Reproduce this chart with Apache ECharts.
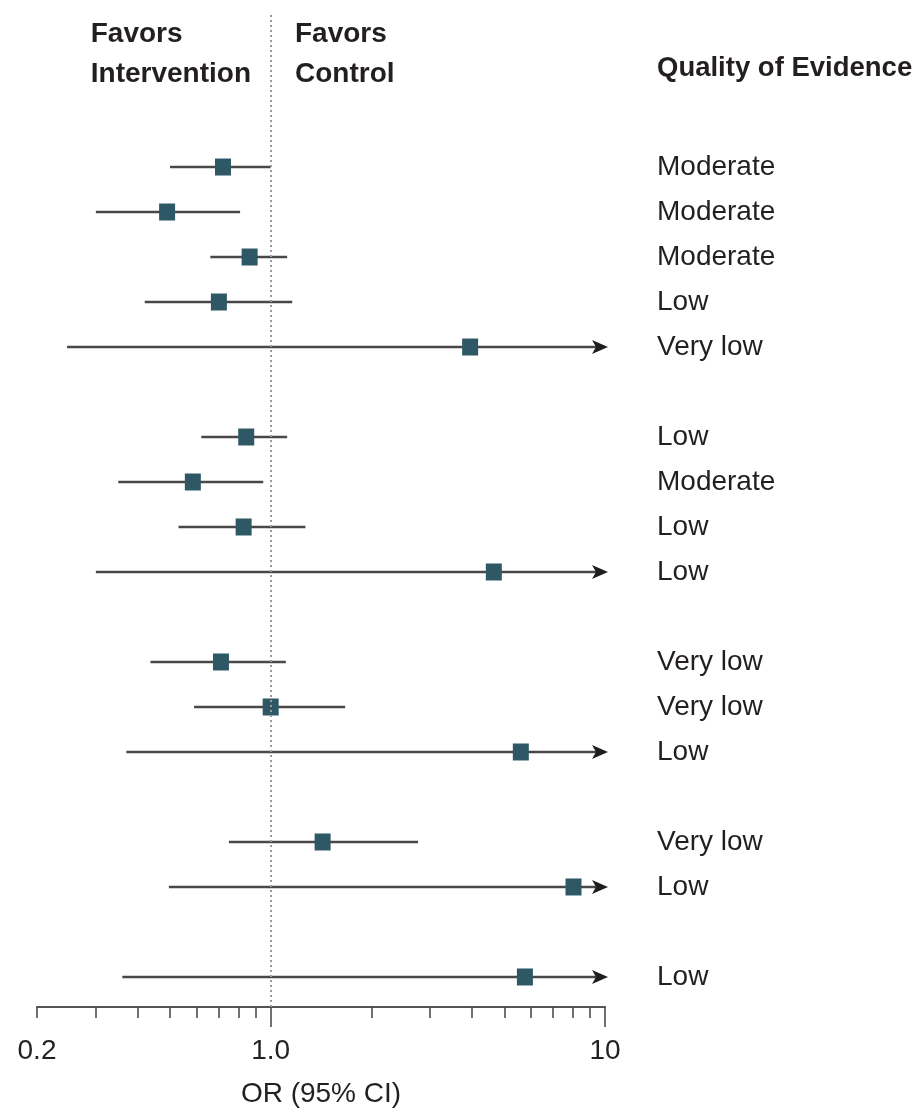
<!DOCTYPE html>
<html>
<head>
<meta charset="utf-8">
<script src="https://cdn.jsdelivr.net/npm/echarts@6/dist/echarts.min.js"></script>
<style>
  html, body { margin: 0; padding: 0; background: #ffffff; }
  #chart { width: 920px; height: 1113px; }
</style>
</head>
<body>
<div id="chart"></div>
<script>
// Rows are listed top to bottom; a blank row separates consecutive groups
const groupSizes = [5, 4, 3, 2, 1];
const oddsRatio = [0.72, 0.49, 0.865, 0.70, 3.95, 0.845, 0.585, 0.83, 4.65, 0.71, 1.0, 5.6, 1.43, 8.05, 5.76];
const ciLower   = [0.50, 0.30, 0.66, 0.42, 0.246, 0.62, 0.35, 0.53, 0.30, 0.437, 0.59, 0.37, 0.75, 0.496, 0.36];
// null: upper limit lies beyond the right end of the axis (drawn as an arrow)
const ciUpper   = [1.0, 0.81, 1.12, 1.16, null, 1.12, 0.95, 1.27, null, 1.11, 1.67, null, 2.76, null, null];
const quality = ['Moderate', 'Moderate', 'Moderate', 'Low', 'Very low',
                 'Low', 'Moderate', 'Low', 'Low',
                 'Very low', 'Very low', 'Low',
                 'Very low', 'Low',
                 'Low'];
const axisMin = 0.2;
const axisMax = 10;
const tickLabelValues = [0.2, 1, 10];
const minorTickValues = [0.2, 0.3, 0.4, 0.5, 0.6, 0.7, 0.8, 0.9, 2, 3, 4, 5, 6, 7, 8, 9];
const majorTickValues = [1, 10];

// vertical slot of every row, leaving one empty slot between groups
const rowSlot = [];
(function () {
  let s = 0;
  groupSizes.forEach(function (n) {
    for (let i = 0; i < n; i++) rowSlot.push(s++);
    s++;
  });
})();

const FONT = 'Liberation Sans, Arial, sans-serif';
const INK = '#231f20';
const BOX = '#2e5866';
const WHISKER = '#484848';

const rows = oddsRatio.map(function (v, i) {
  const open = ciUpper[i] == null;
  return [rowSlot[i], v, ciLower[i], open ? axisMax : ciUpper[i], open ? 1 : 0, i];
});

const chart = echarts.init(document.getElementById('chart'), null, { renderer: 'canvas' });

function fmtTick(v) {
  const r = Math.round(v * 100) / 100;
  if (r === 1) return '1.0';
  return String(r);
}

const option = {
  backgroundColor: '#ffffff',
  animation: false,
  textStyle: { fontFamily: FONT },
  grid: { left: 37, right: 315, top: 15, bottom: 106, containLabel: false },
  xAxis: [
    {
      type: 'log', logBase: 10, min: axisMin, max: axisMax, position: 'bottom',
      axisLine: { show: true, onZero: false, lineStyle: { color: '#555555', width: 2 } },
      axisTick: { show: true, inside: false, length: 11, customValues: minorTickValues,
                  lineStyle: { color: '#444444', width: 1.5 } },
      axisLabel: { show: false },
      splitLine: { show: false },
      minorTick: { show: false }
    },
    {
      type: 'log', logBase: 10, min: axisMin, max: axisMax, position: 'bottom',
      axisLine: { show: false, onZero: false },
      axisTick: { show: true, inside: false, length: 20, customValues: majorTickValues,
                  lineStyle: { color: '#444444', width: 1.5 } },
      axisLabel: { show: true, customValues: tickLabelValues, margin: 30,
                   fontSize: 28, color: INK, fontFamily: FONT, formatter: fmtTick },
      splitLine: { show: false },
      name: 'OR (95% CI)', nameLocation: 'middle', nameGap: 73,
      nameTextStyle: { fontSize: 28, color: INK, fontFamily: FONT }
    }
  ],
  yAxis: {
    type: 'value', inverse: true, min: -3.378, max: 18.667, show: false
  },
  graphic: [
    { type: 'text', right: 669, top: 14,
      style: { text: 'Favors\nIntervention', align: 'right', fill: INK,
               font: 'bold 28px ' + FONT, lineHeight: 40 } },
    { type: 'text', left: 295, top: 14,
      style: { text: 'Favors\nControl', align: 'left', fill: INK,
               font: 'bold 28px ' + FONT, lineHeight: 40 } },
    { type: 'text', left: 657, top: 54,
      style: { text: 'Quality of Evidence', fill: INK, font: 'bold 27.5px ' + FONT } }
  ],
  series: [
    {
      type: 'custom',
      xAxisIndex: 0,
      yAxisIndex: 0,
      data: rows,
      encode: { x: [1, 2, 3], y: 0 },
      renderItem: function (params, api) {
        const slot = api.value(0);
        const mid = api.coord([api.value(1), slot]);
        const lo = api.coord([api.value(2), slot]);
        const hi = api.coord([api.value(3), slot]);
        const open = api.value(4) === 1;
        const idx = api.value(5);
        const y = mid[1];
        const gridRight = params.coordSys.x + params.coordSys.width;
        const children = [];
        children.push({
          type: 'line',
          shape: { x1: lo[0], y1: y, x2: open ? hi[0] - 4 : hi[0], y2: y },
          style: { stroke: WHISKER, lineWidth: 2.4 }
        });
        if (open) {
          const tx = hi[0] + 3;
          children.push({
            type: 'polygon',
            shape: { points: [[tx, y], [tx - 16, y - 7], [tx - 12, y], [tx - 16, y + 7]] },
            style: { fill: '#1e1e1e' }
          });
        }
        children.push({
          type: 'rect',
          shape: { x: mid[0] - 8, y: y - 8.5, width: 16, height: 17 },
          style: { fill: BOX }
        });
        children.push({
          type: 'text',
          x: gridRight + 52, y: y,
          style: { text: quality[idx], fill: INK, font: '28px ' + FONT,
                   verticalAlign: 'middle', align: 'left' }
        });
        return { type: 'group', children: children };
      },
      markLine: {
        silent: true,
        symbol: 'none',
        label: { show: false },
        lineStyle: { color: '#9a9a9a', type: [2, 3], width: 2 },
        data: [{ xAxis: 1 }]
      },
      z: 3
    }
  ]
};

chart.setOption(option);
</script>
</body>
</html>
